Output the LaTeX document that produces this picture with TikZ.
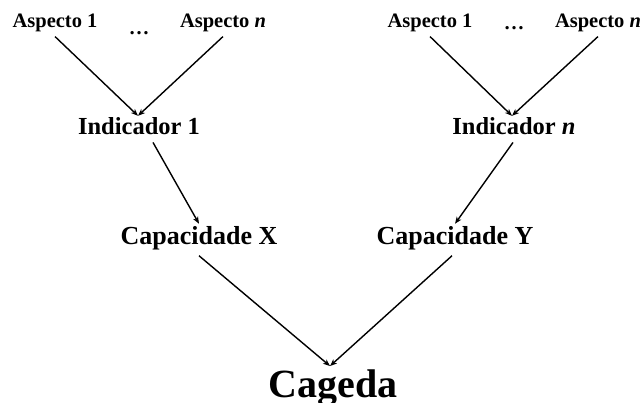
\documentclass[tikz,border=0pt]{standalone}
\usepackage{fontspec}
\setmainfont{Liberation Serif}
\usetikzlibrary{arrows.meta}
\begin{document}
\begin{tikzpicture}[x=1pt,y=-1pt,
  lbl/.style={inner sep=0pt, anchor=base},
  asplbl/.style={lbl, font=\fontsize{20.5}{24}\selectfont\bfseries},
  indlbl/.style={lbl, font=\fontsize{24.5}{28}\selectfont\bfseries},
  caplbl/.style={lbl, font=\fontsize{26}{30}\selectfont\bfseries},
  reslbl/.style={lbl, font=\fontsize{40}{44}\selectfont\bfseries},
  conn/.style={line width=1.4pt, -{Stealth[length=7pt,width=5.5pt,inset=2pt]}}]
\useasboundingbox (0,0) rectangle (642,403);

% aspects feeding the first indicator
\node[asplbl] (a11) at (55,28) {Aspecto 1};
\node[asplbl] (d1)  at (139,35) {\dots};
\node[asplbl] (a1n) at (223,28) {Aspecto \textit{n}};
% aspects feeding the last indicator
\node[asplbl] (a21) at (430,28) {Aspecto 1};
\node[asplbl] (d2)  at (514,30) {\dots};
\node[asplbl] (a2n) at (598,28) {Aspecto \textit{n}};

% indicators
\node[indlbl] (i1) at (139,135) {Indicador 1};
\node[indlbl] (in) at (514,135) {Indicador \textit{n}};

% capacities
\node[caplbl] (cx) at (199,245) {Capacidade X};
\node[caplbl] (cy) at (455,245) {Capacidade Y};

% final result
\node[reslbl] (cg) at (333,397) {Cageda};

% connectors
\draw[conn] ([yshift=-4pt]a11.south) -- ([xshift=-1pt,yshift=2pt]i1.north);
\draw[conn] ([yshift=-4pt]a1n.south) -- ([xshift=-1pt,yshift=2pt]i1.north);
\draw[conn] ([yshift=-4pt]a21.south) -- ([xshift=-2pt,yshift=2pt]in.north);
\draw[conn] ([yshift=-4pt]a2n.south) -- ([xshift=-2pt,yshift=2pt]in.north);

\draw[conn] ([xshift=14pt,yshift=-7pt]i1.south) -- ([yshift=3pt]cx.north);
\draw[conn] ([xshift=-1pt,yshift=-7pt]in.south) -- ([yshift=3pt]cy.north);

\draw[conn] ([yshift=-5pt]cx.south) -- ([xshift=-3pt,yshift=3pt]cg.north);
\draw[conn] ([xshift=-3pt,yshift=-5pt]cy.south) -- ([xshift=-3pt,yshift=3pt]cg.north);
\end{tikzpicture}
\end{document}
